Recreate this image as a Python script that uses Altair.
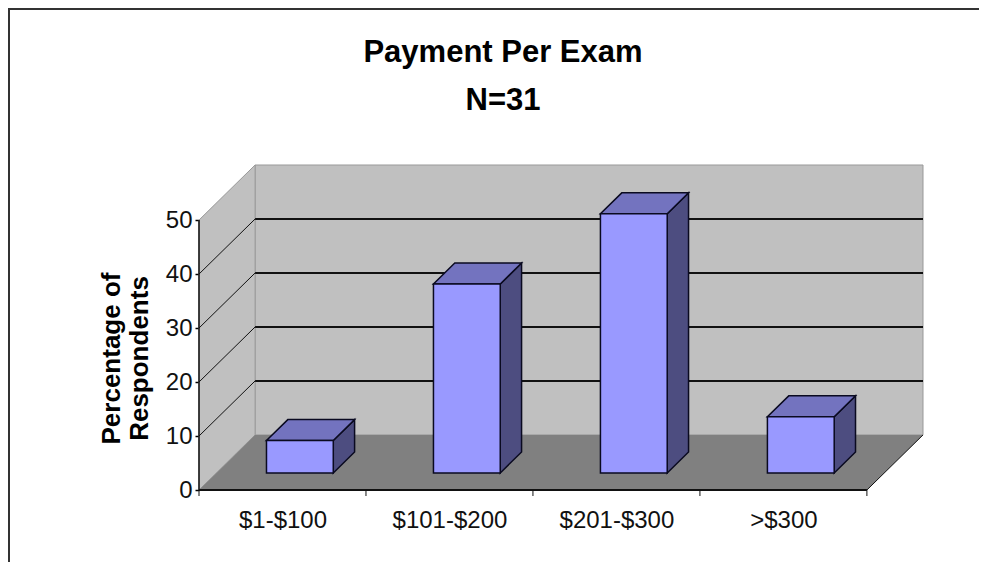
import json
import altair as alt
import pandas as pd

categories = ["$1-$100", "$101-$200", "$201-$300", ">$300"]
values = [6.0, 35.0, 48.0, 10.4]
y_ticks = [0, 10, 20, 30, 40, 50]
title_lines = ["Payment Per Exam", "N=31"]
y_title_lines = ["Percentage of", "Respondents"]

# 3-D projection, in data units
DX = 0.336   # depth shift along the category axis
DY = 10.2    # depth shift along the value axis
D1, D2 = 0.31, 0.69  # bar depth range
GAP = 0.30   # gap on either side of a bar, in category units
N = len(categories)
YMAX = 60.2

X = alt.Scale(domain=[0, N + DX], nice=False, zero=False)
Y = alt.Scale(domain=[0, YMAX], nice=False, zero=False)
FONT = "Liberation Sans"

AX_X = alt.Axis(
    values=[i + 0.5 for i in range(N)], tickSize=0, domain=False, grid=False, title=None,
    labelExpr=json.dumps(categories) + "[floor(datum.value)]",
    labelFont=FONT, labelFontSize=24, labelColor="#111111", labelPadding=18,
    labelFlush=False, labelOverlap=False)
AX_Y = alt.Axis(
    values=y_ticks, tickSize=4, tickColor="black", tickWidth=1.5, domain=False, grid=False,
    labelFont=FONT, labelFontSize=24, labelColor="#111111", labelPadding=3,
    title=y_title_lines, titleFont=FONT, titleFontWeight="bold", titleFontSize=26,
    titleColor="black", titleLineHeight=28, titleX=-75, titleY=193)

xq = lambda f="x": alt.X(f"{f}:Q", scale=X, axis=AX_X)
yq = lambda f="y": alt.Y(f"{f}:Q", scale=Y, axis=AX_Y)

# back wall
back = pd.DataFrame([{"x": DX, "x2": N + DX, "y": DY, "y2": 50 + DY}])
wall = alt.Chart(back).mark_rect(fill="#C0C0C0", stroke="#999999", strokeWidth=1).encode(
    x=xq(), x2="x2:Q", y=yq(), y2="y2:Q")

# left wall
left_df = pd.DataFrame([{"x": 0, "y": 0, "y2": 50}, {"x": DX, "y": DY, "y2": 50 + DY}])
left = alt.Chart(left_df).mark_area(fill="#C0C0C0", stroke="#999999", strokeWidth=1).encode(
    x=xq(), y=yq(), y2="y2:Q")

# gridlines on the back wall
grid_df = pd.DataFrame([{"x": DX, "x2": N + DX, "y": v + DY} for v in y_ticks[1:-1]])
grid_back = alt.Chart(grid_df).mark_rule(color="#111111", strokeWidth=2).encode(
    x=xq(), x2="x2:Q", y=yq())
# slanted gridlines on the left wall
slant_df = pd.DataFrame(
    [{"v": v, "x": 0, "y": v} for v in y_ticks[1:-1]] + [{"v": v, "x": DX, "y": v + DY} for v in y_ticks[1:-1]]
)
grid_left = alt.Chart(slant_df).mark_line(color="#111111", strokeWidth=1).encode(
    x=xq(), y=yq(), detail="v:N")

# floor
floor_df = pd.DataFrame([{"y": 0, "x": 0, "x2": N}, {"y": DY, "x": DX, "x2": N + DX}])
floor = alt.Chart(floor_df).mark_area(orient="horizontal", fill="#808080").encode(
    y=yq(), x=xq(), x2="x2:Q")
edge_df = pd.DataFrame([{"x": N, "y": 0}, {"x": N + DX, "y": DY}])
edge = alt.Chart(edge_df).mark_line(color="#111111", strokeWidth=1).encode(x=xq(), y=yq())

# bar faces
fronts, tops, sides = [], [], []
for i, v in enumerate(values):
    xa, xb = i + GAP, i + 1 - GAP
    fronts.append({"i": i, "x": xa + D1 * DX, "x2": xb + D1 * DX, "y": D1 * DY, "y2": v + D1 * DY})
    for d in (D1, D2):
        tops.append({"i": i, "y": v + d * DY, "x": xa + d * DX, "x2": xb + d * DX})
        sides.append({"i": i, "x": xb + d * DX, "y": d * DY, "y2": v + d * DY})

bar_stroke = dict(stroke="#0A0A20", strokeWidth=1.5)
front = alt.Chart(pd.DataFrame(fronts)).mark_rect(fill="#9999FF", **bar_stroke).encode(
    x=xq(), x2="x2:Q", y=yq(), y2="y2:Q")
top = alt.Chart(pd.DataFrame(tops)).mark_area(orient="horizontal", fill="#7373BF", **bar_stroke).encode(
    y=yq(), x=xq(), x2="x2:Q", detail="i:N")
side = alt.Chart(pd.DataFrame(sides)).mark_area(fill="#4D4D80", **bar_stroke).encode(
    x=xq(), y=yq(), y2="y2:Q", detail="i:N")

# front axis lines and x ticks
axis_df = pd.DataFrame([{"x": 0, "x2": N, "y": 0}])
x_line = alt.Chart(axis_df).mark_rule(color="#111111", strokeWidth=2).encode(
    x=xq(), x2="x2:Q", y=yq())
y_line = alt.Chart(pd.DataFrame([{"x": 0, "y": 0, "y2": 50}])).mark_rule(color="#111111", strokeWidth=1.5).encode(
    x=xq(), y=yq(), y2="y2:Q")
tick_df = pd.DataFrame({"x": list(range(N + 1))})
x_ticks = alt.Chart(tick_df).mark_rule(color="#111111", strokeWidth=1).encode(
    x=xq(), y=alt.value(325), y2=alt.value(331))

# outer frame
one = pd.DataFrame({"a": [0]})
frame_left = alt.Chart(one).mark_rule(color="#333333", strokeWidth=2).encode(
    x=alt.value(-190), y=alt.value(-157), y2=alt.value(405))
frame_top = alt.Chart(one).mark_rule(color="#333333", strokeWidth=2).encode(
    x=alt.value(-191), x2=alt.value(780), y=alt.value(-156))

# title
title_a = alt.Chart(pd.DataFrame({"t": [title_lines[0]]})).mark_text(
    font=FONT, fontSize=31, fontWeight="bold", color="black", align="center", baseline="alphabetic"
).encode(text="t:N", x=alt.value(304), y=alt.value(-103))
title_b = alt.Chart(pd.DataFrame({"t": [title_lines[1]]})).mark_text(
    font=FONT, fontSize=31, fontWeight="bold", color="black", align="center", baseline="alphabetic"
).encode(text="t:N", x=alt.value(304), y=alt.value(-55))

chart = alt.layer(
    wall, left, grid_back, grid_left, floor, edge, x_line, y_line, x_ticks,
    side, top, front, frame_left, frame_top, title_a, title_b,
).properties(
    width=724, height=325,
    padding={"left": 191, "top": 157, "right": 56, "bottom": 72},
    autosize=alt.AutoSizeParams(type="none"),
    background="white",
).configure_view(stroke=None)

chart.save("out.html", embed_options={"renderer": "svg", "actions": False})
